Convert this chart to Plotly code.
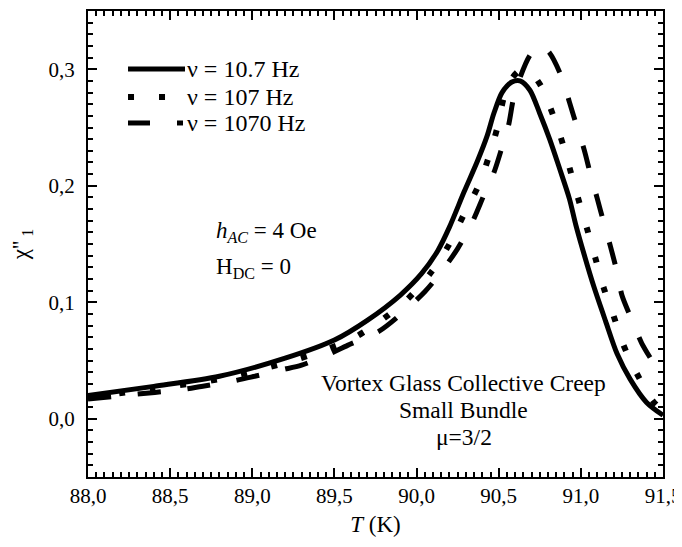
import plotly.graph_objects as go

# 10.7 Hz (solid)
T_a = [88.0, 88.4, 88.8, 89.2, 89.5, 89.7, 89.9, 90.03, 90.13, 90.2, 90.29, 90.37, 90.43, 90.47,
       90.52, 90.58, 90.63, 90.69, 90.75, 90.81, 90.87, 90.93, 90.97, 91.02, 91.08, 91.15, 91.22,
       91.30, 91.40, 91.5]
chi_a = [0.020, 0.0278, 0.0365, 0.052, 0.0676, 0.0845, 0.106, 0.1245, 0.1445, 0.1645, 0.195, 0.221,
         0.243, 0.262, 0.280, 0.289, 0.290, 0.282, 0.262, 0.240, 0.215, 0.189, 0.166, 0.141, 0.113,
         0.084, 0.056, 0.034, 0.014, 0.003]

# 107 Hz (dotted)
T_b = [88.0, 88.4, 88.8, 89.2, 89.4, 89.6, 89.77, 89.94, 90.09, 90.2, 90.29, 90.38, 90.44, 90.49,
       90.53, 90.58, 90.63, 90.70, 90.76, 90.83, 90.89, 90.94, 90.99, 91.04, 91.09, 91.14, 91.2,
       91.26, 91.34, 91.44, 91.5]
chi_b = [0.018, 0.026, 0.034, 0.048, 0.057, 0.068, 0.083, 0.102, 0.126, 0.150, 0.176, 0.201, 0.225,
         0.249, 0.275, 0.292, 0.299, 0.296, 0.285, 0.261, 0.236, 0.211, 0.186, 0.162, 0.137, 0.112,
         0.088, 0.063, 0.039, 0.015, 0.007]

# 1070 Hz (dashed)
T_c = [88.0, 88.26, 88.57, 88.69, 88.87, 89.0, 89.18, 89.30, 89.46, 89.58, 89.77, 89.89, 90.05,
       90.15, 90.25, 90.34, 90.41, 90.47, 90.52, 90.56, 90.59, 90.63, 90.69, 90.75, 90.81, 90.89,
       90.93, 90.98, 91.02, 91.06, 91.10, 91.14, 91.18, 91.22, 91.25, 91.31, 91.37, 91.46, 91.5]
chi_c = [0.017, 0.0206, 0.025, 0.0277, 0.032, 0.036, 0.042, 0.046, 0.055, 0.063, 0.075, 0.088, 0.109,
         0.126, 0.146, 0.169, 0.192, 0.211, 0.233, 0.252, 0.275, 0.293, 0.312, 0.321, 0.314, 0.291,
         0.272, 0.249, 0.231, 0.209, 0.189, 0.168, 0.148, 0.126, 0.106, 0.085, 0.065, 0.0435, 0.033]

labels = ["ν = 10.7 Hz", "ν = 107 Hz", "ν = 1070 Hz"]
x_ticks = [88.0, 88.5, 89.0, 89.5, 90.0, 90.5, 91.0, 91.5]
y_ticks = [0.0, 0.1, 0.2, 0.3]

FONT = "Liberation Serif, Times New Roman, serif"
DOT = "6px,25px"
DASH = "23px,27px"

fig = go.Figure()
fig.add_trace(go.Scatter(x=T_a, y=chi_a, mode="lines", name=labels[0],
                         line=dict(color="black", width=5, shape="spline", smoothing=0.8)))
fig.add_trace(go.Scatter(x=T_b, y=chi_b, mode="lines", name=labels[1],
                         line=dict(color="black", width=6, dash=DOT, shape="spline", smoothing=0.8)))
fig.add_trace(go.Scatter(x=T_c, y=chi_c, mode="lines", name=labels[2],
                         line=dict(color="black", width=5, dash=DASH, shape="spline", smoothing=0.8)))

axis_common = dict(
    showline=True, linecolor="black", linewidth=2, mirror="allticks",
    ticks="inside", ticklen=9, tickwidth=2, tickcolor="black",
    showgrid=False, zeroline=False, automargin=False, ticklabeloverflow="allow",
    tickfont=dict(family=FONT, size=21, color="black"),
)

fig.update_xaxes(range=[88.0, 91.5], tickvals=x_ticks, tickformat=".1f",
                 minor=dict(dtick=0.05, ticks="inside", ticklen=5, tickwidth=2, tickcolor="black"),
                 title=dict(text="<i>T</i> (K)", font=dict(family=FONT, size=23, color="black"),
                            standoff=11),
                 ticklabelstandoff=-1, **axis_common)
fig.update_yaxes(range=[-0.05, 0.35], tickvals=y_ticks, tickformat=".1f",
                 minor=dict(dtick=0.01, ticks="inside", ticklen=5, tickwidth=2, tickcolor="black"),
                 title=dict(text="χ''<sub> 1</sub>", font=dict(family=FONT, size=23, color="black"),
                            standoff=13),
                 ticklabelstandoff=7, **axis_common)

shapes = []
annotations = []
rows_y = [0.8755, 0.8155, 0.7597]
# legend samples
shapes.append(dict(type="line", xref="paper", yref="paper", x0=0.0696, x1=0.1687,
                   y0=rows_y[0], y1=rows_y[0], line=dict(color="black", width=5)))
shapes.append(dict(type="line", xref="paper", yref="paper", x0=0.0696, x1=0.1687,
                   y0=rows_y[1], y1=rows_y[1], line=dict(color="black", width=6, dash=DOT)))
shapes.append(dict(type="line", xref="paper", yref="paper", x0=0.0696, x1=0.1078,
                   y0=rows_y[2], y1=rows_y[2], line=dict(color="black", width=5)))
shapes.append(dict(type="line", xref="paper", yref="paper", x0=0.1548, x1=0.1652,
                   y0=rows_y[2], y1=rows_y[2], line=dict(color="black", width=5)))
for lab, yy in zip(labels, rows_y):
    annotations.append(dict(text=lab, xref="paper", yref="paper", x=0.1687, y=yy,
                            xanchor="left", yanchor="middle", showarrow=False,
                            font=dict(family=FONT, size=24, color="black")))

annotations.append(dict(text="<i>h</i><sub><i>AC</i></sub> = 4 Oe", xref="paper", yref="paper",
                        x=0.2190, y=0.5258, xanchor="left", yanchor="middle", showarrow=False,
                        font=dict(family=FONT, size=23, color="black")))
annotations.append(dict(text="H<sub>DC</sub> = 0", xref="paper", yref="paper",
                        x=0.2190, y=0.4485, xanchor="left", yanchor="middle", showarrow=False,
                        font=dict(family=FONT, size=23, color="black")))
for txt, yy in zip(["Vortex Glass Collective Creep", "Small Bundle", "μ=3/2"],
                   [0.2016, 0.1437, 0.0858]):
    annotations.append(dict(text=txt, xref="paper", yref="paper", x=(463.5 - 88) / 575, y=yy,
                            xanchor="center", yanchor="middle", showarrow=False,
                            font=dict(family=FONT, size=23.5, color="black")))

# The page places the figure 8 px from the top-left corner (body margin), so the
# figure size and margins compensate; height kept small so no scrollbar appears.
fig.update_layout(
    width=674, height=529,
    margin=dict(l=80, r=19, t=3, b=60, autoexpand=False),
    paper_bgcolor="white", plot_bgcolor="white",
    separators=",.",
    showlegend=False,
    shapes=shapes, annotations=annotations,
    font=dict(family=FONT, color="black"),
)

fig.write_html("out.html")
